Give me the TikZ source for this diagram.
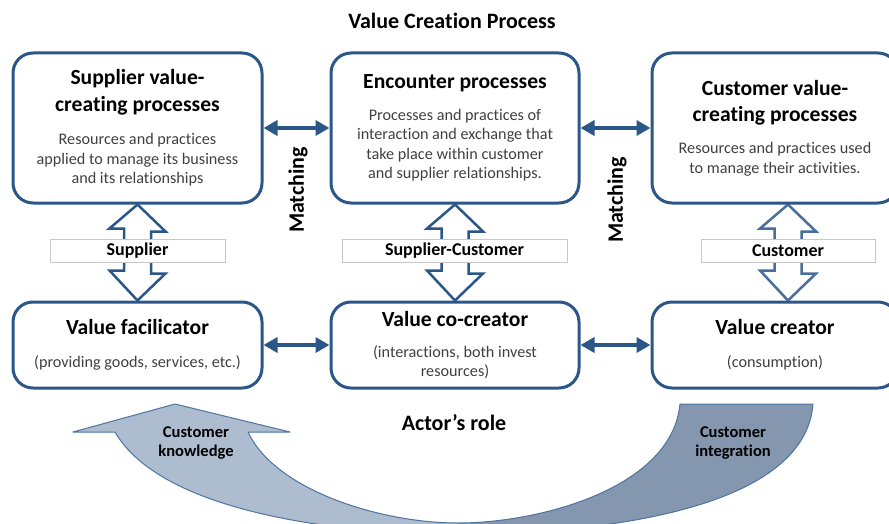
\documentclass[tikz,border=0pt]{standalone}
\usepackage{fontspec}
\setmainfont{Carlito}[Ligatures=NoCommon]
\usetikzlibrary{arrows.meta,backgrounds}
\setlength{\lineskiplimit}{-50pt}

\definecolor{boxblue}{HTML}{2B5688}
\definecolor{custblue}{HTML}{4A6E9B}
\definecolor{bodygray}{HTML}{404040}
\definecolor{lightflow}{HTML}{ADBCCF}
\definecolor{darkflow}{HTML}{8597AF}
\definecolor{flowline}{HTML}{4D73A3}
\definecolor{tagline}{HTML}{C8C8C8}

\newcommand{\headfont}{\bfseries\color{black}\fontsize{21.6}{27}\selectfont}
\newcommand{\bodyfont}{\mdseries\color{bodygray}\fontsize{16.2}{19.5}\selectfont}
\newcommand{\flowshape}{(175,404) -- (290,432) -- (248,432)
  .. controls (275,490) and (380,523) .. (458,523)
  .. controls (540,523) and (672,488) .. (680,404) -- (813,404)
  .. controls (805,510) and (600,534) .. (458,534)
  .. controls (330,534) and (160,510) .. (115,432) -- (73,432) -- cycle}

\begin{document}
\begin{tikzpicture}[x=1pt, y=-1pt,
  procbox/.style={draw=boxblue, line width=3pt, rounded corners=20pt, fill=white,
    align=center, minimum width=249pt, minimum height=150pt, inner sep=0pt,
    font=\fontsize{16.2}{19.5}\selectfont},
  rolebox/.style={procbox, minimum height=86pt},
  link/.style={boxblue, line width=4.5pt,
    {Triangle[length=14pt,width=15pt]}-{Triangle[length=14pt,width=15pt]}},
  hollow/.style={draw=boxblue, line width=2.5pt, fill=white, line join=miter},
  tag/.style={draw=tagline, line width=0.8pt, fill=white, minimum height=23pt,
    inner sep=0pt, font=\bfseries\fontsize{18}{20}\selectfont},
  bigtext/.style={font=\bfseries\fontsize{22}{26}\selectfont},
  flowtext/.style={font=\bfseries\fontsize{16.5}{19}\selectfont, align=center}]
  \useasboundingbox (0,0) rectangle (889,524);
  \clip (0,0) rectangle (889,524);

  % Titles
  \node[bigtext] (title) at (452,21) {Value Creation Process};
  \node[bigtext] (role) at (454,423) {Actor’s role};

  % Process boxes
  \node[procbox] (supp) at (137.5,128) {\headfont Supplier value-\\[7.5pt]
    \headfont creating processes\\[13.5pt]
    \bodyfont Resources and practices\\
    \bodyfont applied to manage its business\\
    \bodyfont and its relationships};
  \node[procbox, minimum width=248pt] (enc) at (455,128) {\headfont Encounter processes\\[12.5pt]
    \bodyfont Processes and practices of\\
    \bodyfont interaction and exchange that\\
    \bodyfont take place within customer\\
    \bodyfont and supplier relationships.};
  \node[procbox, minimum width=246pt] (cust) at (775,128) {\headfont Customer value-\\[6.5pt]
    \headfont creating processes\\[12.5pt]
    \bodyfont Resources and practices used\\[0.5pt]
    \bodyfont to manage their activities.};

  % Role boxes
  \node[rolebox] (fac) at (137.5,345) {\headfont Value facilicator\\[13.5pt]
    \bodyfont (providing goods, services, etc.)};
  \node[rolebox, minimum width=248pt] (cocr) at (455,345) {\headfont Value co-creator\\[11.5pt]
    \bodyfont (interactions, both invest\\
    \bodyfont resources)};
  \node[rolebox, minimum width=246pt] (crea) at (775,345) {\headfont Value creator\\[13.5pt]
    \bodyfont (consumption)};

  % Matching arrows
  \draw[link] (supp.east) -- (enc.west);
  \draw[link] (enc.east) -- (cust.west);
  \draw[link] (fac.east) -- (cocr.west);
  \draw[link] (cocr.east) -- (crea.west);
  \node[bigtext, rotate=90] (match1) at (298,190) {Matching};
  \node[bigtext, rotate=90] (match2) at (617,200) {Matching};

  % Actor arrows
  \begin{scope}[on background layer]
    \foreach \top/\bot/\dx/\col in {supp/fac/0/boxblue, enc/cocr/0/boxblue, cust/crea/13/custblue}
      \draw[hollow, draw=\col] ([xshift=\dx]\top.south) -- ++(28,27) -- ++(-14.5,0) -- ++(0,42)
        -- ++(14.5,0) -- ([xshift=\dx]\bot.north) -- ++(-28,-30) -- ++(14.5,0) -- ++(0,-42)
        -- ++(-14.5,0) -- cycle;
  \end{scope}
  \node[tag, minimum width=175pt] (suptag) at (137.5,251) {Supplier};
  \node[tag, minimum width=225pt] (sctag) at (454.5,251) {Supplier-Customer};
  \node[tag, minimum width=174pt] (custag) at (788,251) {Customer};

  % Flow arrow
  \begin{scope}
    \clip \flowshape;
    \fill[lightflow] (0,380) rectangle (458,560);
    \fill[darkflow] (458,380) rectangle (889,560);
  \end{scope}
  \draw[flowline, line width=1pt, line join=round] \flowshape;
  \node[flowtext] (know) at (196,443) {Customer\\knowledge};
  \node[flowtext] (integ) at (733,443) {Customer\\integration};
\end{tikzpicture}
\end{document}
